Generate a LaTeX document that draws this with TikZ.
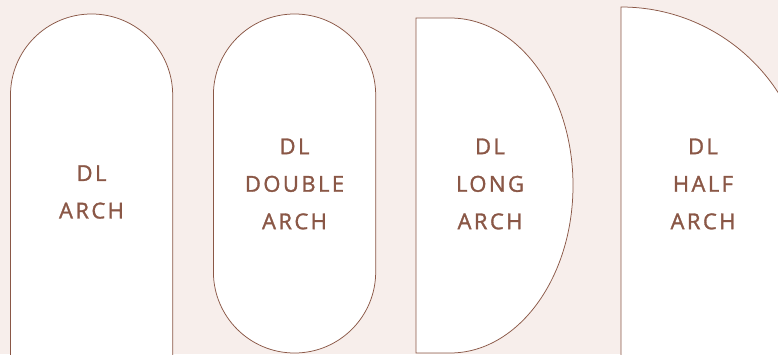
\documentclass[tikz,border=0pt]{standalone}
\usepackage{fontspec}
\setmainfont{Open Sans}
\newfontfamily\archfont[LetterSpace=11,FakeBold=1.3]{Open Sans}
\definecolor{blush}{HTML}{F7EEEB}
\definecolor{clay}{HTML}{8A5746}

\begin{document}
\begin{tikzpicture}[
  archline/.style={
    draw=clay,
    line width=0.75pt,
    fill=white
  },
  archlabel/.style={
    align=center,
    inner sep=0pt,
    text=clay,
    font=\archfont\fontsize{22}{37.5}\selectfont
  }
]

  % page and background
  \fill[blush] (0,0) rectangle (778pt,354pt);
  \useasboundingbox (0,0) rectangle (778pt,354pt);
  \clip (0,0) rectangle (778pt,354pt);

  \begin{scope}[x=1pt,y=1pt]
    % single arch
    \draw[archline] (10.5,-10) -- (10.5,258.9)
      arc[start angle=180,end angle=0,radius=81.1] -- (172.7,-10);

    % double arch
    \draw[archline] (213.4,258.85)
      arc[start angle=180,end angle=0,radius=81.15] -- (375.7,82.15)
      arc[start angle=0,end angle=-180,radius=81.15] -- cycle;

    % long arch
    \draw[archline] (416,1) -- (416,336) -- (450,336)
      arc[start angle=90,end angle=-90,x radius=123,y radius=167.5] -- cycle;

    % half arch
    \draw[archline] (621,-10) -- (621,347)
      arc[start angle=90,end angle=0,radius=187] -- (808,-10);

    \node[archlabel] (arch) at (91.5,162) {DL\\ARCH};
    \node[archlabel] (double) at (294.5,170) {DL\\DOUBLE\\ARCH};
    \node[archlabel] (long) at (490,170) {DL\\LONG\\ARCH};
    \node[archlabel] (half) at (703,170) {DL\\HALF\\ARCH};
  \end{scope}

\end{tikzpicture}
\end{document}
